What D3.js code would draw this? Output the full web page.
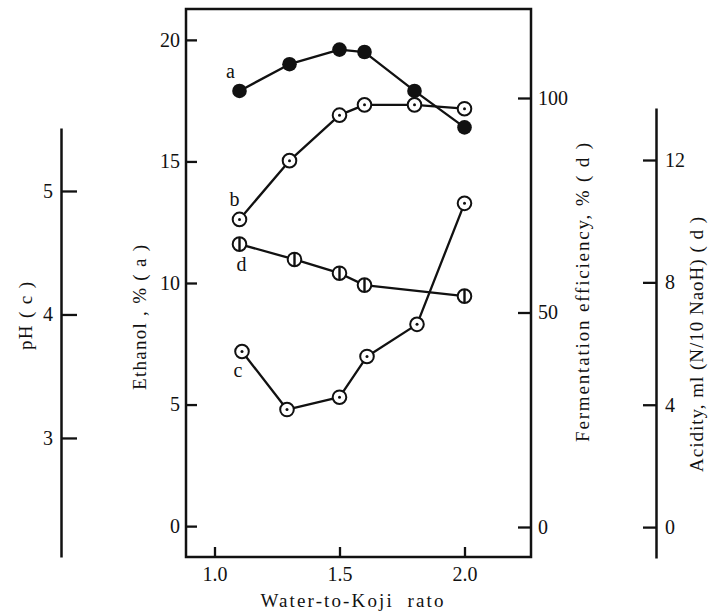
<!DOCTYPE html>
<html><head><meta charset="utf-8">
<script src="https://cdn.jsdelivr.net/npm/d3@7"></script>
<style>
html,body{margin:0;padding:0;background:#fff;}
svg{display:block;}
text{font-family:"Liberation Serif","DejaVu Serif",serif;fill:#111;}
</style></head>
<body>
<svg id="chart" width="715" height="614"></svg>
<script>
// ---- data ----
const xTicks = [1.0, 1.5, 2.0];
const ethanolTicks = [0, 5, 10, 15, 20];
const fermentTicks = [0, 50, 100];
const phTicks = [3, 4, 5];
const acidTicks = [0, 4, 8, 12];

// a: Ethanol, %
const ratioA = [1.1, 1.3, 1.5, 1.6, 1.8, 2.0];
const ethanolA = [17.9, 19.0, 19.6, 19.5, 17.9, 16.4];
// b: Fermentation efficiency, %
const ratioB = [1.1, 1.3, 1.5, 1.6, 1.8, 2.0];
const fermentB = [71.7, 85.4, 96.0, 98.4, 98.4, 97.5];
// c: pH
const ratioC = [1.11, 1.29, 1.5, 1.61, 1.81, 2.0];
const phC = [3.70, 3.23, 3.33, 3.66, 3.92, 4.90];
// d: Acidity, ml (N/10 NaoH)
const ratioD = [1.1, 1.32, 1.5, 1.6, 2.0];
const acidD = [9.25, 8.75, 8.30, 7.91, 7.55];

const seriesNames = ["a", "b", "c", "d"];

// ---- layout ----
const svg = d3.select("#chart");
const box = {left: 186, right: 531, top: 9, bottom: 557};

const x = d3.scaleLinear().domain([0.886, 2.266]).range([box.left, box.right]);
const yEth = d3.scaleLinear().domain([-1.27, 21.27]).range([box.bottom, box.top]);
const yFer = d3.scaleLinear().domain([0, 100]).range([527, 98]);
const yPh = d3.scaleLinear().domain([2.036, 5.51]).range([557, 128]);
const yAcid = d3.scaleLinear().domain([-1.01, 13.70]).range([558, 108]);

const fontSize = 20;

function styleAxis(g, hideDomain) {
  g.selectAll("text").style("font-size", fontSize + "px").attr("fill", "#111")
    .style("font-family", '"Liberation Serif", serif');
  g.selectAll("line").attr("stroke", "#111").attr("stroke-width", 2.3);
  if (hideDomain) g.select(".domain").remove();
  else g.select(".domain").attr("stroke", "#111").attr("stroke-width", 2.5);
}

// box
svg.append("rect").attr("x", box.left).attr("y", box.top)
  .attr("width", box.right - box.left).attr("height", box.bottom - box.top)
  .attr("fill", "none").attr("stroke", "#111").attr("stroke-width", 2.5);

// x axis
svg.append("g").attr("transform", `translate(0,${box.bottom})`)
  .call(d3.axisBottom(x).tickValues(xTicks).tickFormat(d3.format(".1f"))
    .tickSizeInner(-10).tickSizeOuter(0).tickPadding(10))
  .call(g => styleAxis(g, true));

// ethanol axis (left of box)
svg.append("g").attr("transform", `translate(${box.left},0)`)
  .call(d3.axisLeft(yEth).tickValues(ethanolTicks).tickFormat(d3.format("d"))
    .tickSizeInner(-11).tickSizeOuter(0).tickPadding(6))
  .call(g => styleAxis(g, true));

// fermentation axis (right of box)
svg.append("g").attr("transform", `translate(${box.right},0)`)
  .call(d3.axisRight(yFer).tickValues(fermentTicks).tickFormat(d3.format("d"))
    .tickSizeInner(-13).tickSizeOuter(0).tickPadding(7))
  .call(g => styleAxis(g, true));

// pH axis (far left)
svg.append("g").attr("transform", `translate(61,0)`)
  .call(d3.axisLeft(yPh).tickValues(phTicks).tickFormat(d3.format("d"))
    .tickSizeInner(-16).tickSizeOuter(0).tickPadding(8))
  .call(g => styleAxis(g, false));

// acidity axis (far right)
svg.append("g").attr("transform", `translate(656,0)`)
  .call(d3.axisRight(yAcid).tickValues(acidTicks).tickFormat(d3.format("d"))
    .tickSizeInner(-13).tickSizeOuter(0).tickPadding(9))
  .call(g => styleAxis(g, false));

// axis titles
function vTitle(txt, bx, cy, len) {
  svg.append("text").attr("transform", `translate(${bx},${cy}) rotate(-90)`)
    .attr("text-anchor", "middle").style("font-size", "19px").style("white-space", "pre")
    .attr("textLength", len).attr("lengthAdjust", "spacing").text(txt);
}
vTitle("pH ( c )", 32, 316, 68);
vTitle("Ethanol , % ( a )", 146, 317.5, 145);
vTitle("Fermentation efficiency, % ( d )", 589, 292.5, 299);
vTitle("Acidity, ml (N/10 NaoH) ( d )", 703, 344.5, 255);

svg.append("text").attr("x", 352).attr("y", 607).attr("text-anchor", "middle")
  .style("font-size", "19px").style("white-space", "pre")
  .attr("textLength", 183).attr("lengthAdjust", "spacing")
  .text("Water-to-Koji  rato");

// series
const series = [
  {name: seriesNames[0], xs: ratioA, ys: ethanolA, scale: yEth, kind: "filled", lab: [-9, -13]},
  {name: seriesNames[1], xs: ratioB, ys: fermentB, scale: yFer, kind: "dot", lab: [-5, -13]},
  {name: seriesNames[2], xs: ratioC, ys: phC, scale: yPh, kind: "dot", lab: [-4, 25]},
  {name: seriesNames[3], xs: ratioD, ys: acidD, scale: yAcid, kind: "bar", lab: [2, 27]}
];

const line = d3.line();
const r = 6.8;
series.forEach(s => {
  const pts = s.xs.map((v, i) => [x(v), s.scale(s.ys[i])]);
  svg.append("path").attr("d", line(pts)).attr("fill", "none")
    .attr("stroke", "#111").attr("stroke-width", 2.3).attr("stroke-linejoin", "round");
  const g = svg.append("g");
  pts.forEach(p => {
    const m = g.append("g").attr("transform", `translate(${p[0]},${p[1]})`);
    if (s.kind === "filled") {
      m.append("circle").attr("r", r + 0.5).attr("fill", "#111");
    } else {
      m.append("circle").attr("r", r).attr("fill", "#fff").attr("stroke", "#111").attr("stroke-width", 2);
      if (s.kind === "dot") m.append("circle").attr("r", 1.5).attr("fill", "#111");
      else m.append("line").attr("x1", 0).attr("x2", 0).attr("y1", -r).attr("y2", r)
        .attr("stroke", "#111").attr("stroke-width", 2.4);
    }
  });
  svg.append("text").attr("x", pts[0][0] + s.lab[0]).attr("y", pts[0][1] + s.lab[1])
    .attr("text-anchor", "middle").style("font-size", "20px").text(s.name);
});
</script>
</body></html>
